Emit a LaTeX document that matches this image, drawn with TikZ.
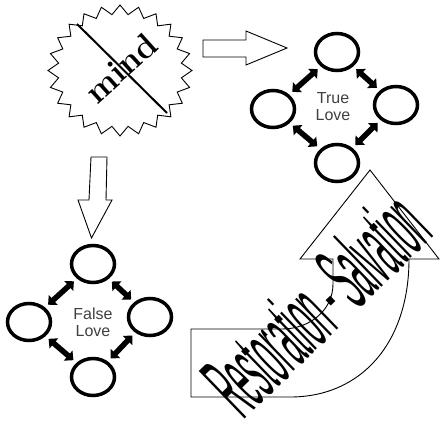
\documentclass[tikz,border=0pt]{standalone}
\usepackage{fontspec}
\newfontfamily\arialf{Liberation Sans}
\usetikzlibrary{arrows.meta,shapes.geometric}
\begin{document}
\begin{tikzpicture}[x=1pt,y=-1pt,
  ring/.style={ellipse,draw,line width=3.5pt,minimum width=43pt,minimum height=37pt,inner sep=0pt},
  dbl/.style={line width=5.5pt,{Triangle[length=7pt,width=13pt]}-{Triangle[length=7pt,width=13pt]},shorten <=4pt,shorten >=4pt},
  block/.style={draw,line width=0.9pt,fill=white,line join=miter},
  lovetext/.style={font=\arialf\fontsize{16}{17}\selectfont,text=black!75,align=center,inner sep=0pt}]
\useasboundingbox (0,0) rectangle (442,429);
% starburst
\draw[line width=0.9pt] (192,70.5) \foreach \i [evaluate=\i as \r using {ifthenelse(mod(\i,2)==0,1,0.86)}] in {1,...,47} { -- ({120+72*\r*cos(\i*7.5)},{70.5+65.5*\r*sin(\i*7.5)}) } -- cycle;
\node[rotate=42,inner sep=0pt,font=\bfseries\fontsize{34}{34}\selectfont] (mind) at (121,68) {mind};
\coordinate (s1) at (77,24);
\coordinate (s2) at (167,113);
\draw[line width=2pt] (s1) -- (s2);
% block arrows
\draw[block] (203,40) -- (246,40) -- (246,31) -- (287,48) -- (246,65) -- (246,57) -- (203,57) -- cycle;
\draw[block] (91,157) -- (107,157) -- (106,200) -- (112,200) -- (91.5,238) -- (78,200) -- (89,200) -- cycle;
% curved arrow
\draw[block] (191,329) -- (191,397) -- (290,397) .. controls (362,397) and (409,342) .. (409,259) -- (439,259) -- (370,170) -- (300,259) -- (333,259) -- (333,284) .. controls (333,310) and (310,329) .. (282,329) -- cycle;
\node[anchor=base west,rotate=44,inner sep=0pt,font=\arialf\fontsize{96}{96}\selectfont] (rs) at (243,421) {\scalebox{0.275}[1]{Restoration - Salvation}};
% True Love
\node[ring] (tt) at (337,52) {};
\node[ring] (tl) at (273,109) {};
\node[ring] (tr) at (396,105) {};
\node[ring] (tb) at (337,163) {};
\node[lovetext] (tlabel) at (333,107) {True\\Love};
\draw[dbl] (tl) -- (tt);
\draw[dbl] (tt) -- (tr);
\draw[dbl] (tl) -- (tb);
\draw[dbl] (tb) -- (tr);
% False Love
\node[ring] (ft) at (93,264) {};
\node[ring] (fl) at (29,322) {};
\node[ring] (fr) at (150,317) {};
\node[ring] (fb) at (93,377) {};
\node[lovetext] (flabel) at (93,322) {False\\Love};
\draw[dbl] (fl) -- (ft);
\draw[dbl] (ft) -- (fr);
\draw[dbl] (fl) -- (fb);
\draw[dbl] (fb) -- (fr);
\end{tikzpicture}
\end{document}
